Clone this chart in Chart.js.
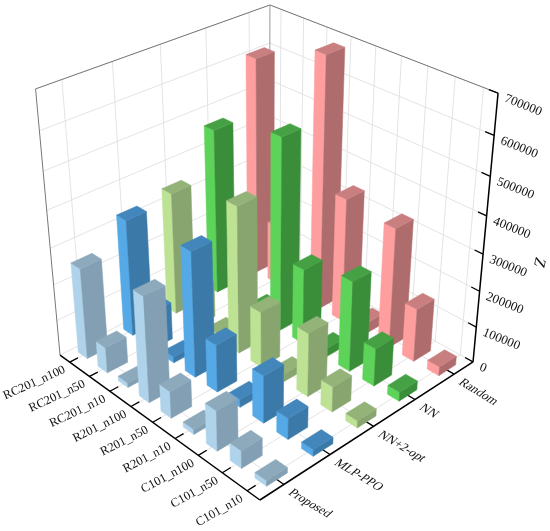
<!DOCTYPE html>
<html><head><meta charset="utf-8">
<style>html,body{margin:0;padding:0;background:#fff}canvas{display:block}</style>
<script src="https://cdn.jsdelivr.net/npm/chart.js@4"></script></head>
<body><canvas id="c" width="550" height="531"></canvas>
<script>
const categories = ['C101_n10','C101_n50','C101_n100','R201_n10','R201_n50','R201_n100','RC201_n10','RC201_n50','RC201_n100'];
const seriesNames = ['Proposed','MLP-PPO','NN+2-opt','NN','Random'];
const zTicks = {min:0,max:700000,step:100000};
const proposed = [15000,48000,110000,14000,75000,290000,13000,72000,253000];
const mlpPpo   = [18000,58000,130000,22000,132000,345000,17000,105000,325000];
const nn2opt   = [20000,70000,175000,22000,155000,405000,18000,105000,342000];
const nn       = [25000,105000,250000,24000,210000,530000,22000,130000,462000];
const random   = [25000,148000,332000,30000,345000,690000,30000,170000,606000];
const seriesColors = [
 {l:'#AFD3EA',r:'#829FB3',t:'#8DA9BC'},
 {l:'#55A9E6',r:'#3B79A9',t:'#4286BB'},
 {l:'#BDE294',r:'#88A46F',t:'#93B378'},
 {l:'#5ED35A',r:'#3B8E39',t:'#46A044'},
 {l:'#FF9E9E',r:'#AE6C6C',t:'#C97F7F'}
];
// projection of the unit box (u: category axis, v: series axis, w: value axis), fitted to the frame corners
const frame = [[0,0,0,260,500],[1,0,0,60,355],[0,1,0,473,362],[1,0,1,35.5,89],[0,1,1,498,93],[1,1,1,270,5]];
function solveProjection(){
  const A=[],B=[];
  for(const [x,y,z,u,v] of frame){
    A.push([x,y,z,1,0,0,0,0,-u*x,-u*y,-u*z]);B.push(u);
    A.push([0,0,0,0,x,y,z,1,-v*x,-v*y,-v*z]);B.push(v);
  }
  const n=11,N=[...Array(n)].map(()=>Array(n+1).fill(0));
  A.forEach((r,k)=>{for(let i=0;i<n;i++){for(let j=0;j<n;j++)N[i][j]+=r[i]*r[j];N[i][n]+=r[i]*B[k];}});
  for(let i=0;i<n;i++)N[i][i]+=1e-9;
  for(let i=0;i<n;i++){
    let p=i;for(let k=i+1;k<n;k++)if(Math.abs(N[k][i])>Math.abs(N[p][i]))p=k;
    [N[i],N[p]]=[N[p],N[i]];
    for(let k=0;k<n;k++){if(k===i)continue;const f=N[k][i]/N[i][i];for(let j=i;j<=n;j++)N[k][j]-=f*N[i][j];}
  }
  return N.map((r,i)=>r[n]/r[i]);
}
const P=solveProjection();
function proj(x,y,z){
  const w=P[8]*x+P[9]*y+P[10]*z+1;
  return [(P[0]*x+P[1]*y+P[2]*z+P[3])/w,(P[4]*x+P[5]*y+P[6]*z+P[7])/w];
}
const dec=(s,v)=>s.isHorizontal()?(s.getPixelForValue(v)-s.left)/s.width:(s.bottom-s.getPixelForValue(v))/s.height;
function poly(ctx,pts,fill){
  ctx.beginPath();pts.forEach((p,i)=>i?ctx.lineTo(p[0],p[1]):ctx.moveTo(p[0],p[1]));ctx.closePath();
  ctx.fillStyle=fill;ctx.fill();ctx.strokeStyle=fill;ctx.lineWidth=0.5;ctx.stroke();
}
const barU=0.46/categories.length, barV=0.44/seriesNames.length;
class Bar3DController extends Chart.BarController{
  draw(){
    const ctx=this.chart.ctx,meta=this._cachedMeta,xs=meta.xScale,ys=meta.yScale,ss=this.chart.scales.s;
    const col=seriesColors[this.index],v=dec(ss,this.index);
    for(let i=meta.data.length-1;i>=0;i--){
      const u=dec(xs,i),z=dec(ys,this.getParsed(i).y);
      const u0=u-barU/2,u1=u+barU/2,v0=v-barV/2,v1=v+barV/2;
      poly(ctx,[proj(u0,v0,0),proj(u1,v0,0),proj(u1,v0,z),proj(u0,v0,z)],col.l);
      poly(ctx,[proj(u0,v0,0),proj(u0,v1,0),proj(u0,v1,z),proj(u0,v0,z)],col.r);
      poly(ctx,[proj(u0,v0,z),proj(u1,v0,z),proj(u1,v1,z),proj(u0,v1,z)],col.t);
    }
  }
}
Bar3DController.id='bar3d';
Bar3DController.defaults=Chart.BarController.defaults;
Chart.register(Bar3DController);
function seg(ctx,a,b,color,w){ctx.beginPath();ctx.moveTo(a[0],a[1]);ctx.lineTo(b[0],b[1]);ctx.strokeStyle=color;ctx.lineWidth=w;ctx.stroke();}
function label(ctx,text,p,dx,dy,angle,shear,align,font){
  ctx.save();ctx.translate(p[0]+dx,p[1]+dy);ctx.rotate(angle*Math.PI/180);ctx.transform(1,0,shear,1,0,0);
  ctx.font=font;ctx.textAlign=align;ctx.textBaseline='middle';ctx.fillStyle='#111';ctx.fillText(text,0,0);ctx.restore();
}
const frame3d={id:'frame3d',beforeDatasetsDraw(chart){
  const ctx=chart.ctx,xs=chart.scales.x,ys=chart.scales.y,ss=chart.scales.s;
  const us=categories.map((c,i)=>dec(xs,i)),vs=seriesNames.map((c,i)=>dec(ss,i)),zs=ys.ticks.map(t=>dec(ys,t.value));
  const g='#e3e3e3';
  us.forEach(u=>{seg(ctx,proj(u,0,0),proj(u,1,0),g,1);seg(ctx,proj(u,1,0),proj(u,1,1),g,1);});
  vs.forEach(v=>{seg(ctx,proj(0,v,0),proj(1,v,0),g,1);seg(ctx,proj(1,v,0),proj(1,v,1),g,1);});
  zs.forEach(z=>{seg(ctx,proj(1,0,z),proj(1,1,z),g,1);seg(ctx,proj(1,1,z),proj(0,1,z),g,1);});
  const d='#777';
  seg(ctx,proj(1,0,0),proj(1,0,1),d,1);seg(ctx,proj(1,0,1),proj(1,1,1),d,1);seg(ctx,proj(1,1,1),proj(0,1,1),d,1);seg(ctx,proj(1,1,0),proj(1,1,1),'#999',1);
  seg(ctx,proj(0,0,0),proj(1,0,0),'#000',1.5);seg(ctx,proj(0,0,0),proj(0,1,0),'#000',1.5);seg(ctx,proj(0,1,0),proj(0,1,1),'#000',1.5);
  us.forEach(u=>seg(ctx,proj(u,0,0),proj(u,0.035,0),'#000',1.3));
  vs.forEach(v=>seg(ctx,proj(0,v,0),proj(0.06,v,0),'#000',1.3));
  zs.forEach(z=>seg(ctx,proj(0,1,z),proj(0.035,1,z),'#000',1.3));
  const f='12.5px "Liberation Serif"';
  categories.forEach((c,i)=>label(ctx,c,proj(us[i],0,0),-5,7,-24-6*(1-us[i]),0,'right',f));
  seriesNames.forEach((s,i)=>label(ctx,s,proj(0,vs[i],0),6,7,31,-0.3,'left',f));
  ys.ticks.forEach(t=>label(ctx,String(t.value),proj(0,1,dec(ys,t.value)),7,5,22,0,'left','13px "Liberation Serif"'));
  label(ctx,'Z',[539,262],0,0,103,0,'center','italic 16px "Liberation Serif"');
}};
new Chart(document.getElementById('c'),{
  type:'bar3d',
  data:{labels:categories,datasets:seriesNames.map((n,i)=>({label:n,data:[proposed,mlpPpo,nn2opt,nn,random][i],backgroundColor:seriesColors[i].l}))},
  plugins:[frame3d],
  options:{responsive:false,animation:false,layout:{padding:0},
    plugins:{legend:{display:false},tooltip:{enabled:false}},
    scales:{
      x:{type:'category',display:false,offset:true,ticks:{autoSkip:false}},
      s:{type:'category',axis:'x',labels:seriesNames,display:false,offset:true,ticks:{autoSkip:false}},
      y:{type:'linear',display:false,min:zTicks.min,max:zTicks.max,ticks:{stepSize:zTicks.step}}
    }}
});
</script></body></html>
